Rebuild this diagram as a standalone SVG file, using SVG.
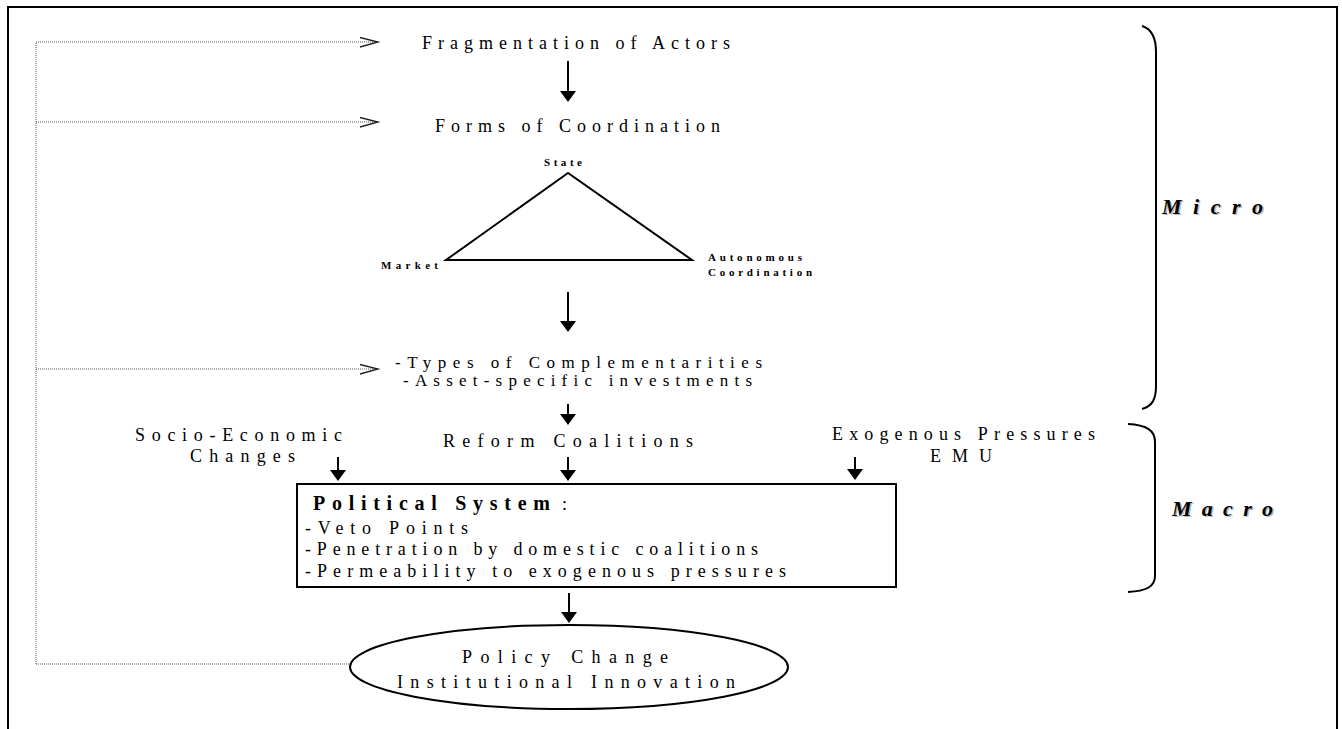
<svg xmlns="http://www.w3.org/2000/svg" width="1342" height="729" viewBox="0 0 1342 729">
<defs>
<style>
.t{font-family:"Liberation Serif","Times New Roman",serif;font-size:18px;fill:#000}
.c{font-family:"Liberation Serif","Times New Roman",serif;font-size:17px;fill:#000}
.s{font-family:"Liberation Serif","Times New Roman",serif;font-size:11px;font-weight:bold;fill:#000}
.b{font-family:"Liberation Serif","Times New Roman",serif;font-size:20px;font-weight:bold;fill:#000}
.m{font-family:"Liberation Serif","Times New Roman",serif;font-size:22px;font-weight:bold;font-style:italic}
.dot{fill:none;stroke:#555;stroke-width:1;stroke-dasharray:1 1}
.oh{fill:none;stroke:#222;stroke-width:1.3}
.ar{stroke:#000;stroke-width:2;fill:none}
.ln{stroke:#000;stroke-width:2;fill:none}
</style>
<marker id="ah" markerUnits="userSpaceOnUse" markerWidth="11" markerHeight="16" viewBox="0 0 11 16" refX="0" refY="8" orient="auto">
<path d="M0,0 L11,8 L0,16 Z" fill="#000"/>
</marker>
</defs>
<rect width="1342" height="729" fill="#fff"/>
<g id="frame">
<path class="ln" d="M8,729 L8,7 L1337,7 L1337,729"/>
</g>
<g id="connectors">
<path class="dot" d="M36,664 L36,42"/>
<path class="dot" d="M36,42 L376,42"/>
<path class="dot" d="M36,122 L376,122"/>
<path class="dot" d="M36,369 L376,369"/>
<path class="dot" d="M36,664 L350,664"/>
<polyline class="oh" points="360,37.5 378,42 360,47"/>
<polyline class="oh" points="360,117.5 378,122 360,127"/>
<polyline class="oh" points="360,364.5 378,369 360,374"/>
<line class="ar" x1="568" y1="61" x2="568" y2="91" marker-end="url(#ah)"/>
<line class="ar" x1="568" y1="292" x2="568" y2="321" marker-end="url(#ah)"/>
<line class="ar" x1="568" y1="404" x2="568" y2="414" marker-end="url(#ah)"/>
<line class="ar" x1="568" y1="457" x2="568" y2="470" marker-end="url(#ah)"/>
<line class="ar" x1="338" y1="457" x2="338" y2="470" marker-end="url(#ah)"/>
<line class="ar" x1="855" y1="457" x2="855" y2="469" marker-end="url(#ah)"/>
<line class="ar" x1="569" y1="593" x2="569" y2="612" marker-end="url(#ah)"/>
</g>
<g id="fragmentation">
<text class="t" x="422" y="49" textLength="308" lengthAdjust="spacing">Fragmentation of Actors</text>
</g>
<g id="forms">
<text class="t" x="435" y="132" textLength="285" lengthAdjust="spacing">Forms of Coordination</text>
</g>
<g id="triangle">
<polygon class="ln" points="568,173 446,260 692,260"/>
<text class="s" x="544" y="166" textLength="38" lengthAdjust="spacing">State</text>
<text class="s" x="381" y="269" textLength="57" lengthAdjust="spacing">Market</text>
<text class="s" x="708" y="261" textLength="94" lengthAdjust="spacing">Autonomous</text>
<text class="s" x="708" y="276" textLength="104" lengthAdjust="spacing">Coordination</text>
</g>
<g id="complementarities">
<text class="c" x="395" y="367.5" textLength="367" lengthAdjust="spacing">-Types of Complementarities</text>
<text class="c" x="403" y="386" textLength="349" lengthAdjust="spacing">-Asset-specific investments</text>
</g>
<g id="reform">
<text class="t" x="443" y="447" textLength="250" lengthAdjust="spacing">Reform Coalitions</text>
</g>
<g id="socio">
<text class="t" x="135" y="441" textLength="207" lengthAdjust="spacing">Socio-Economic</text>
<text class="t" x="190" y="461.5" textLength="105" lengthAdjust="spacing">Changes</text>
</g>
<g id="exogenous">
<text class="t" x="832" y="440" textLength="263" lengthAdjust="spacing">Exogenous Pressures</text>
<text class="t" x="930" y="462" textLength="62" lengthAdjust="spacing">EMU</text>
</g>
<g id="political">
<rect class="ln" x="297" y="484" width="599" height="103"/>
<text class="b" x="313" y="510" textLength="237" lengthAdjust="spacing">Political System</text>
<text class="t" x="562" y="510">:</text>
<text class="t" x="305" y="534" textLength="163" lengthAdjust="spacing">-Veto Points</text>
<text class="t" x="305" y="555" textLength="453" lengthAdjust="spacing">-Penetration by domestic coalitions</text>
<text class="t" x="305" y="577" textLength="481" lengthAdjust="spacing">-Permeability to exogenous pressures</text>
</g>
<g id="policy">
<ellipse class="ln" cx="569" cy="667" rx="219" ry="42"/>
<text class="t" x="462" y="663" textLength="206" lengthAdjust="spacing">Policy Change</text>
<text class="t" x="397" y="688" textLength="338" lengthAdjust="spacing">Institutional Innovation</text>
</g>
<g id="micro">
<path class="ln" d="M1142,26 C1152,29 1156,38 1156,52 L1156,386 C1156,400 1152,406 1142,409"/>
<text class="m" x="1163.5" y="215" fill="#bbb" textLength="101" lengthAdjust="spacing">Micro</text>
<text class="m" x="1162" y="213.5" fill="#000" textLength="101" lengthAdjust="spacing">Micro</text>
</g>
<g id="macro">
<path class="ln" d="M1128,424 C1146,425 1155,430 1155,442 L1155,576 C1155,587 1146,591 1128,592"/>
<text class="m" x="1173.5" y="517" fill="#bbb" textLength="101" lengthAdjust="spacing">Macro</text>
<text class="m" x="1172" y="515.5" fill="#000" textLength="101" lengthAdjust="spacing">Macro</text>
</g>
</svg>
